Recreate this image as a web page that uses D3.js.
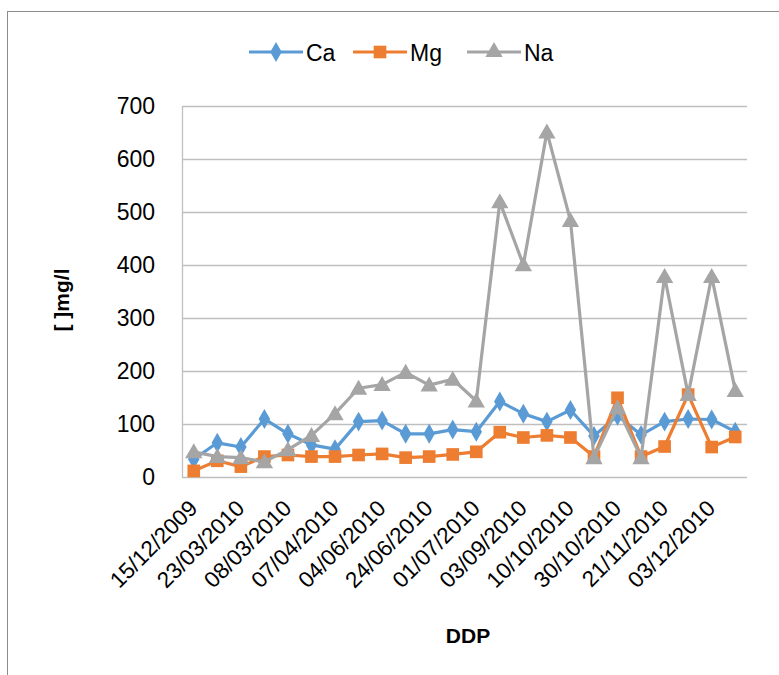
<!DOCTYPE html>
<html>
<head>
<meta charset="utf-8">
<script src="https://cdn.jsdelivr.net/npm/d3@7/dist/d3.min.js"></script>
<style>
  html, body { margin: 0; padding: 0; background: #fff; }
  svg text { font-family: "Liberation Sans", Arial, sans-serif; fill: #000; }
</style>
</head>
<body>
<svg id="chart" width="779" height="675"></svg>
<script>
// ---- data ----
const tickLabels = ["15/12/2009", "23/03/2010", "08/03/2010", "07/04/2010", "04/06/2010", "24/06/2010",
                    "01/07/2010", "03/09/2010", "10/10/2010", "30/10/2010", "21/11/2010", "03/12/2010"];
const categoryCount = 24; // one sample per position, every second one labelled
const ca = [33, 64, 56, 109, 81, 60, 52, 104, 106, 81, 81, 89, 85, 142, 119, 104, 126, 77, 115, 79, 104, 109, 108, 85];
const mg = [11, 30, 19, 38, 41, 38, 38, 41, 43, 36, 38, 42, 47, 84, 74, 78, 74, 38, 149, 38, 57, 155, 56, 75];
const na = [47, 38, 36, 28, 51, 78, 119, 167, 174, 197, 173, 184, 143, 519, 400, 651, 484, 36, 130, 36, 378, 155, 378, 163];
const yTicks = [0, 100, 200, 300, 400, 500, 600, 700];
const seriesNames = ["Ca", "Mg", "Na"];

const colors = { Ca: "#5B9BD5", Mg: "#ED7D31", Na: "#A5A5A5" };
const series = [
  { name: "Ca", values: ca, shape: d3.symbolDiamond },
  { name: "Mg", values: mg, shape: d3.symbolSquare },
  { name: "Na", values: na, shape: d3.symbolTriangle }
];

const svg = d3.select("#chart");
const FONT = "Liberation Sans, Arial, sans-serif";

// outer chart border
svg.append("rect").attr("x", 7.5).attr("y", 11.5).attr("width", 800).attr("height", 700)
  .attr("fill", "none").attr("stroke", "#8c8c8c").attr("stroke-width", 1);

const plot = { left: 182, right: 747, top: 106, bottom: 476.7 };
const idx = d3.range(categoryCount);
const x = d3.scaleBand().domain(idx).range([plot.left, plot.right]).paddingInner(0).paddingOuter(0);
const cx = i => x(i) + x.bandwidth() / 2;
const y = d3.scaleLinear().domain([0, 700]).range([plot.bottom, plot.top]);

// gridlines
svg.append("g").selectAll("line").data(yTicks).join("line")
  .attr("x1", plot.left).attr("x2", plot.right)
  .attr("y1", d => Math.round(y(d)) + 0.5).attr("y2", d => Math.round(y(d)) + 0.5)
  .attr("stroke", "#bfbfbf").attr("stroke-width", 1.3);

// y axis
const yAxis = svg.append("g").attr("transform", `translate(${plot.left},0)`)
  .call(d3.axisLeft(y).tickValues(yTicks).tickSize(0).tickPadding(27));
yAxis.select(".domain").attr("stroke", "#bfbfbf").attr("stroke-width", 1.3);
yAxis.selectAll("text").attr("font-size", 23).attr("font-family", FONT).attr("fill", "#000");

// x axis
const xAxis = svg.append("g").attr("transform", `translate(0,${plot.bottom})`)
  .call(d3.axisBottom(x).tickValues(idx.filter(i => i % 2 === 0)).tickSize(0)
    .tickFormat(i => tickLabels[i / 2]));
xAxis.select(".domain").remove();
xAxis.selectAll("text")
  .attr("font-size", 22.5).attr("font-family", FONT).attr("fill", "#000")
  .attr("text-anchor", "end")
  .attr("y", 0).attr("dy", 0)
  .attr("transform", "translate(5,33) rotate(-45)");

// lines and markers
const line = d3.line().x((d, i) => cx(i)).y(d => y(d));
series.forEach(s => {
  const g = svg.append("g");
  g.append("path").datum(s.values).attr("d", line)
    .attr("fill", "none").attr("stroke", colors[s.name]).attr("stroke-width", 3.2)
    .attr("stroke-linejoin", "round");
  const size = s.name === "Ca" ? 115 : (s.name === "Mg" ? 160 : 130);
  g.selectAll("path.m").data(s.values).join("path").attr("class", "m")
    .attr("transform", (d, i) => `translate(${cx(i)},${y(d) + (s.name === "Na" ? 1.5 : 0)})`)
    .attr("d", d3.symbol().type(s.shape).size(size))
    .attr("fill", colors[s.name]);
});

// legend
const legendItems = [
  { name: "Ca", x0: 249, shape: d3.symbolDiamond, size: 115 },
  { name: "Mg", x0: 353, shape: d3.symbolSquare, size: 160 },
  { name: "Na", x0: 467, shape: d3.symbolTriangle, size: 130 }
];
const ly = 52;
legendItems.forEach(it => {
  const g = svg.append("g");
  g.append("line").attr("x1", it.x0).attr("x2", it.x0 + 54).attr("y1", ly).attr("y2", ly)
    .attr("stroke", colors[it.name]).attr("stroke-width", 3.2);
  g.append("path").attr("transform", `translate(${it.x0 + 27},${ly})`)
    .attr("d", d3.symbol().type(it.shape).size(it.size)).attr("fill", colors[it.name]);
  g.append("text").attr("x", it.x0 + 57).attr("y", ly + 8.5).attr("font-size", 23).text(it.name);
});

// axis titles
svg.append("text").attr("x", 468).attr("y", 643).attr("text-anchor", "middle")
  .attr("font-size", 21).attr("font-weight", "bold").text("DDP");
svg.append("text").attr("transform", "translate(69,300) rotate(-90)").attr("text-anchor", "middle")
  .attr("font-size", 21).attr("font-weight", "bold").text("[ ]mg/l");
</script>
</body>
</html>
